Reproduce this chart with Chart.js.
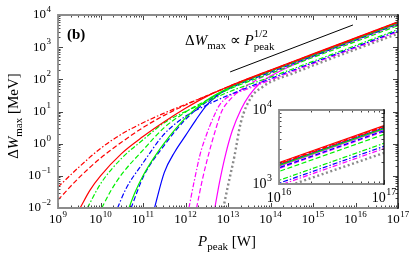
<!DOCTYPE html>
<html>
<head>
<meta charset="utf-8">
<script src="https://cdn.jsdelivr.net/npm/chart.js@4"></script>
<style>
html, body { margin: 0; padding: 0; background: #fff; }
#wrap { position: relative; width: 415px; height: 256px; }
#main { position: absolute; left: 0; top: 0; }
#inset { position: absolute; left: 240px; top: 100px; }
</style>
</head>
<body>
<div id="wrap">
  <canvas id="main" width="415" height="256"></canvas>
  <canvas id="inset" width="165" height="115"></canvas>
</div>
<script>
// Curves: [log10 P_peak (W), log10 dW_max (MeV)]
const redSolid = [[9.52,-2],[9.75,-1.45],[10,-1.0],[10.5,-0.3],[11,0.22],[11.5,0.68],[12,1.1],[12.5,1.47],[13,1.77],[14,2.29],[15,2.79],[16,3.29],[17,3.79]];
const redDashed = [[9,-1.75],[9.5,-1.05],[10,-0.45],[10.5,0.05],[11,0.5],[11.5,0.88],[12,1.2],[12.5,1.49],[13,1.77],[14,2.28],[15,2.78],[16,3.28],[17,3.78]];
const redDashDot = [[9,-1.35],[9.5,-0.72],[10,-0.15],[10.5,0.3],[11,0.65],[11.5,0.95],[12,1.22],[12.5,1.49],[13,1.76],[14,2.27],[15,2.77],[16,3.27],[17,3.77]];
const greenSolid = [[10.67,-2],[10.8,-1.55],[11,-1.0],[11.25,-0.45],[11.5,0.02],[12,0.8],[12.5,1.35],[13,1.72],[14,2.25],[15,2.75],[16,3.25],[17,3.75]];
const greenDashed = [[10.03,-2],[10.25,-1.45],[10.5,-0.95],[11,-0.2],[11.5,0.5],[12,0.98],[12.5,1.35],[13,1.68],[14,2.18],[15,2.68],[16,3.17],[17,3.67]];
const greenDashDot = [[9.69,-2],[10,-1.25],[10.5,-0.45],[11,0.12],[11.5,0.65],[12,1.0],[12.5,1.3],[13,1.6],[14,2.07],[15,2.56],[16,3.05],[17,3.55]];
const blueSolid = [[11.27,-2],[11.5,-0.9],[11.75,-0.25],[12,0.25],[12.25,0.75],[12.5,1.2],[12.75,1.5],[13,1.72],[14,2.26],[15,2.76],[16,3.26],[17,3.76]];
const blueDashed = [[10.72,-2],[11,-1.05],[11.5,-0.05],[12,0.75],[12.5,1.3],[13,1.69],[14,2.22],[15,2.72],[16,3.22],[17,3.72]];
const blueDashDot = [[10.4,-2],[10.6,-1.4],[11,-0.6],[11.5,0.3],[12,0.85],[12.5,1.2],[13,1.5],[14,2.02],[15,2.52],[16,3.01],[17,3.51]];
const magSolid = [[12.69,-2],[12.8,-1.2],[12.95,-0.3],[13.1,0.4],[13.3,1.05],[13.5,1.5],[13.75,1.88],[14,2.1],[15,2.72],[16,3.24],[17,3.74]];
const magDashed = [[12.26,-2],[12.4,-1.1],[12.55,-0.3],[12.7,0.4],[12.85,1.0],[13,1.3],[13.5,1.85],[14,2.18],[15,2.71],[16,3.21],[17,3.71]];
const magDashDot = [[12.08,-2],[12.2,-1.2],[12.35,-0.3],[12.5,0.3],[12.65,0.8],[12.8,1.2],[13,1.45],[13.5,1.72],[14,1.98],[15,2.49],[16,2.98],[17,3.48]];
const grayDotted = [[12.89,-2],[13.0,-1.3],[13.15,-0.4],[13.3,0.65],[13.55,1.45],[13.8,1.75],[14,1.92],[14.5,2.17],[15,2.43],[16,2.93],[17,3.42]];
const scalingLine = [[13.05,2.23],[15.94,3.69]];

const xTickExps = [9, 10, 11, 12, 13, 14, 15, 16, 17];
const yTickExps = [-2, -1, 0, 1, 2, 3, 4];
const insetXTickExps = [16, 17];
const insetYTickExps = [3, 4];

const SERIF = "'Liberation Serif', 'Times New Roman', serif";
const RED = '#ff0000', GREEN = '#00f000', BLUE = '#0000ff', MAG = '#ff00ff', GRAY = '#8a8a8a';
const DASH = [5, 2.5], DASHDOT = [5, 2, 1.5, 2], DOT = [2, 2.6];

function toPoints(arr) {
  return arr.map(([lp, lw]) => ({ x: Math.pow(10, lp), y: Math.pow(10, lw) }));
}

function makeDatasets(withScaling) {
  const list = [
    [redSolid, RED, []], [redDashed, RED, DASH], [redDashDot, RED, DASHDOT],
    [greenSolid, GREEN, []], [greenDashed, GREEN, DASH], [greenDashDot, GREEN, DASHDOT],
    [blueSolid, BLUE, []], [blueDashed, BLUE, DASH], [blueDashDot, BLUE, DASHDOT],
    [magSolid, MAG, []], [magDashed, MAG, DASH], [magDashDot, MAG, DASHDOT],
  ];
  const ds = list.map(([d, c, dash]) => ({
    data: toPoints(d), borderColor: c, borderDash: dash, borderWidth: 1.2,
  }));
  ds.push({ data: toPoints(grayDotted), borderColor: GRAY, borderDash: DOT, borderWidth: 2.4 });
  if (withScaling) {
    ds.unshift({ data: toPoints(scalingLine), borderColor: '#000', borderDash: [], borderWidth: 1 });
  }
  return ds;
}

// "10" with a raised exponent; y is the vertical centre of the digits
function drawPow(ctx, exp, x, y, align, size) {
  const sup = String(exp).replace('-', '\u2212');
  const small = Math.round(size * 0.7);
  ctx.font = size + 'px ' + SERIF;
  const wb = ctx.measureText('10').width;
  ctx.font = small + 'px ' + SERIF;
  const ws = ctx.measureText(sup).width;
  const total = wb + ws + 0.5;
  const left = align === 'right' ? x - total : align === 'center' ? x - total / 2 : x;
  ctx.textAlign = 'left';
  ctx.textBaseline = 'middle';
  ctx.fillStyle = '#000';
  ctx.font = size + 'px ' + SERIF;
  ctx.fillText('10', left, y);
  ctx.font = small + 'px ' + SERIF;
  ctx.fillText(sup, left + wb + 0.5, y - size * 0.42);
}

// text runs with italic / sub / sup parts
function drawRuns(ctx, runs, x, y, align) {
  let cur = 0, start = 0;
  runs.forEach(r => {
    ctx.font = (r.style || '') + ' ' + r.size + 'px ' + SERIF;
    r.w = ctx.measureText(r.t).width;
  });
  runs.forEach(r => {
    if (r.stack) { r.x = start; cur = Math.max(cur, start + r.w); }
    else { start = cur; r.x = cur; cur += r.w; }
  });
  const left = align === 'center' ? x - cur / 2 : x;
  ctx.textAlign = 'left';
  ctx.textBaseline = 'alphabetic';
  ctx.fillStyle = '#000';
  runs.forEach(r => {
    ctx.font = (r.style || '') + ' ' + r.size + 'px ' + SERIF;
    ctx.fillText(r.t, left + r.x, y + (r.dy || 0));
  });
}

function drawFrame(chart, major, minor) {
  const { ctx, chartArea: a, scales: { x, y } } = chart;
  ctx.save();
  ctx.strokeStyle = '#444';
  ctx.lineWidth = 1;
  const xmin = Math.log10(x.min), xmax = Math.log10(x.max);
  const ymin = Math.log10(y.min), ymax = Math.log10(y.max);
  ctx.beginPath();
  for (let d = Math.floor(xmin); d <= xmax; d++) {
    for (let m = 1; m <= 9; m++) {
      const v = m * Math.pow(10, d);
      if (v < x.min * 0.999 || v > x.max * 1.001) continue;
      const px = Math.round(x.getPixelForValue(v)) + 0.5;
      const len = m === 1 ? major : minor;
      ctx.moveTo(px, a.bottom); ctx.lineTo(px, a.bottom - len);
      ctx.moveTo(px, a.top); ctx.lineTo(px, a.top + len);
    }
  }
  for (let d = Math.floor(ymin); d <= ymax; d++) {
    for (let m = 1; m <= 9; m++) {
      const v = m * Math.pow(10, d);
      if (v < y.min * 0.999 || v > y.max * 1.001) continue;
      const py = Math.round(y.getPixelForValue(v)) + 0.5;
      const len = m === 1 ? major : minor;
      ctx.moveTo(a.left, py); ctx.lineTo(a.left + len, py);
      ctx.moveTo(a.right, py); ctx.lineTo(a.right - len, py);
    }
  }
  ctx.stroke();
  // border: grey on three sides, dark on the right
  ctx.lineWidth = 1.8;
  ctx.strokeStyle = '#8c8c8c';
  ctx.beginPath();
  ctx.moveTo(a.right, a.top); ctx.lineTo(a.left, a.top);
  ctx.lineTo(a.left, a.bottom); ctx.lineTo(a.right, a.bottom);
  ctx.stroke();
  ctx.strokeStyle = '#111';
  ctx.lineWidth = 1.4;
  ctx.beginPath();
  ctx.moveTo(a.right, a.top - 0.9); ctx.lineTo(a.right, a.bottom + 0.9);
  ctx.stroke();
  ctx.restore();
}

const mainDecor = {
  id: 'mainDecor',
  afterDraw(chart) {
    const { ctx, chartArea: a, scales: { x, y } } = chart;
    drawFrame(chart, 5, 2.5);
    ctx.save();
    xTickExps.forEach(e => drawPow(ctx, e, x.getPixelForValue(Math.pow(10, e)), a.bottom + 12, 'center', 13));
    yTickExps.forEach(e => drawPow(ctx, e, a.left - 7, y.getPixelForValue(Math.pow(10, e)), 'right', 13));
    // panel label
    ctx.font = 'bold 15px ' + SERIF;
    ctx.textBaseline = 'alphabetic';
    ctx.fillText('(b)', 67, 39);
    // scaling annotation
    drawRuns(ctx, [
      { t: '\u0394', size: 15 },
      { t: 'W', size: 15, style: 'italic' },
      { t: 'max', size: 11, dy: 4 },
      { t: ' \u221d ', size: 15 },
      { t: 'P', size: 15, style: 'italic' },
      { t: 'peak', size: 11, dy: 5 },
      { t: '1/2', size: 11, dy: -8, stack: true },
    ], 185, 45, 'left');
    // x title
    drawRuns(ctx, [
      { t: 'P', size: 15, style: 'italic' },
      { t: 'peak', size: 11, dy: 4 },
      { t: ' [W]', size: 15 },
    ], 227, 246, 'center');
    // y title
    ctx.translate(18, 116);
    ctx.rotate(-Math.PI / 2);
    drawRuns(ctx, [
      { t: '\u0394', size: 15 },
      { t: 'W', size: 15, style: 'italic' },
      { t: 'max', size: 11, dy: 4 },
      { t: ' [MeV]', size: 15 },
    ], 0, 0, 'center');
    ctx.restore();
  }
};

const insetDecor = {
  id: 'insetDecor',
  beforeDraw(chart) {
    const { ctx, chartArea: a } = chart;
    ctx.save();
    ctx.fillStyle = '#fff';
    ctx.fillRect(a.left, a.top, a.right - a.left, a.bottom - a.top);
    ctx.restore();
  },
  afterDraw(chart) {
    const { ctx, chartArea: a, scales: { x, y } } = chart;
    drawFrame(chart, 4, 2.5);
    ctx.save();
    insetXTickExps.forEach(e => drawPow(ctx, e, x.getPixelForValue(Math.pow(10, e)), a.bottom + 14, 'center', 14));
    insetYTickExps.forEach(e => drawPow(ctx, e, a.left - 7, y.getPixelForValue(Math.pow(10, e)), 'right', 14));
    ctx.restore();
  }
};

function baseOptions(xmin, xmax, ymin, ymax, padding) {
  return {
    responsive: false,
    animation: false,
    layout: { padding: padding },
    elements: {
      point: { radius: 0 },
      line: { cubicInterpolationMode: 'monotone', borderCapStyle: 'butt', fill: false }
    },
    plugins: { legend: { display: false }, tooltip: { enabled: false } },
    scales: {
      x: { type: 'logarithmic', min: xmin, max: xmax, display: false },
      y: { type: 'logarithmic', min: ymin, max: ymax, display: false }
    }
  };
}

new Chart(document.getElementById('main'), {
  type: 'line',
  data: { datasets: makeDatasets(true) },
  options: baseOptions(1e9, 1e17, 1e-2, 1e4, { left: 58, right: 17, top: 15, bottom: 48 }),
  plugins: [mainDecor]
});

new Chart(document.getElementById('inset'), {
  type: 'line',
  data: { datasets: makeDatasets(false) },
  options: baseOptions(1e16, 1e17, 1e3, 1e4, { left: 39, right: 21, top: 10, bottom: 31 }),
  plugins: [insetDecor]
});
</script>
</body>
</html>
